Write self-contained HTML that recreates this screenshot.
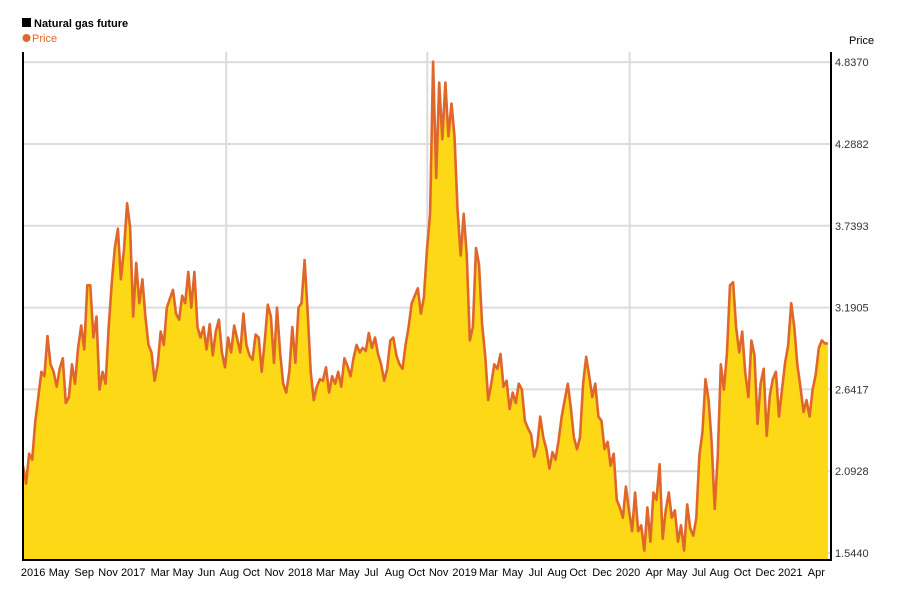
<!DOCTYPE html>
<html><head><meta charset="utf-8"><style>
body{margin:0;background:#fff;font-family:"Liberation Sans",sans-serif}
svg text{font-family:"Liberation Sans",sans-serif}
</style></head><body>
<svg id="chart" width="900" height="600" viewBox="0 0 900 600" xmlns="http://www.w3.org/2000/svg">
<defs><clipPath id="plotclip"><rect x="23" y="40" width="808" height="520"/></clipPath></defs>
<rect x="22" y="18" width="9" height="9" fill="#000"/>
<text x="34" y="27" font-size="11" font-weight="bold" fill="#000">Natural gas future</text>
<circle cx="26.5" cy="38" r="4" fill="#e0672a"/>
<text x="32" y="42" font-size="11" fill="#e0672a">Price</text>
<text x="849" y="44" font-size="11" fill="#000">Price</text>
<g id="grid"></g>
<g id="series" clip-path="url(#plotclip)"></g>
<g id="axes"></g>
</svg>
<script>
const prices = [
2.13,2.01,2.21,2.17,2.42,2.59,2.76,2.73,3.00,2.81,2.76,2.66,2.78,2.85,2.55,2.59,2.81,2.68,2.92,3.07,2.91,3.34,3.34,2.99,3.13,2.64,2.76,2.68,3.06,3.36,3.59,3.72,3.38,3.58,3.89,
3.73,3.13,3.49,3.22,3.38,3.13,2.94,2.89,2.70,2.81,3.03,2.94,3.19,3.25,3.31,3.15,3.11,3.27,3.22,3.43,3.19,3.43,3.06,2.99,3.06,2.91,3.08,2.87,3.03,3.11,2.89,2.79,2.99,2.89,3.07,2.98,2.89,3.15,2.94,2.87,2.84,3.01,2.99,2.76,2.97,3.21,3.13,2.82,3.19,2.89,2.68,2.62,2.76,3.06,2.82,3.19,
3.22,3.51,3.17,2.76,2.57,2.66,2.71,2.70,2.79,2.62,2.73,2.68,2.76,2.66,2.85,2.80,2.73,2.85,2.94,2.89,2.92,2.90,3.02,2.92,2.99,2.88,2.81,2.70,2.78,2.97,2.99,2.87,2.81,2.78,2.94,3.06,3.22,3.27,3.32,3.15,3.26,3.58,3.82,4.84,4.06,4.70,4.32,4.70,4.34,4.56,4.34,3.84,3.54,3.82,3.54,2.97,3.06,3.59,3.48,3.08,2.87,2.57,2.68,2.81,2.78,2.88,2.66,2.70,2.51,2.62,2.55,2.68,2.64,2.43,2.38,2.34,2.19,2.26,2.46,2.32,2.24,2.11,2.22,2.17,2.30,2.46,2.57,2.68,2.52,2.32,2.24,2.32,2.68,2.86,
2.73,2.59,2.68,2.46,2.43,2.24,2.29,2.13,2.21,
1.90,1.85,1.78,1.99,1.83,1.69,1.95,1.69,1.73,1.56,1.85,1.62,1.95,1.90,2.14,1.64,1.83,1.95,1.78,1.83,1.62,1.73,1.56,1.87,1.71,1.66,1.78,
2.20,2.36,2.71,2.57,2.29,1.84,2.20,2.81,2.64,2.88,3.34,3.36,3.06,2.89,3.03,2.75,2.59,2.97,2.87,2.41,2.68,2.78,2.33,2.60,2.71,2.76,2.46,2.64,2.82,2.94,3.22,3.06,2.81,2.66,2.49,2.57,2.46,2.64,2.74,2.92,2.97,2.95,2.95
];
const yTicks = [1.5440,2.0928,2.6417,3.1905,3.7393,4.2882,4.8370];
const xTickLabels = ["2016","May","Sep","Nov","2017","Mar","May","Jun","Aug","Oct","Nov","2018","Mar","May","Jul","Aug","Oct","Nov","2019","Mar","May","Jul","Aug","Oct","Dec","2020","Apr","May","Jul","Aug","Oct","Dec","2021","Apr"];
const xTickWeeks = [3.3,11.8,20.0,27.8,36.0,44.8,52.3,59.9,67.4,74.6,82.1,90.6,98.8,106.6,113.8,121.4,128.6,135.8,144.3,152.1,160.0,167.5,174.5,181.3,189.2,197.7,206.2,213.7,220.9,227.5,235.0,242.5,250.7,259.2];
const xGridWeeks = [66.4,132.1,198.2];

const L=23,R=831,T=52,B=560;
const STEP=(R-L)/264;
const NS="http://www.w3.org/2000/svg";
function xs(w){return L+w*STEP;}
function ys(v){return 553-(v-1.544)*(81.8/0.5488);}
function mk(tag,attrs,parent){const e=document.createElementNS(NS,tag);for(const k in attrs)e.setAttribute(k,attrs[k]);parent.appendChild(e);return e;}
const grid=document.getElementById('grid'),series=document.getElementById('series'),axes=document.getElementById('axes');
yTicks.forEach(v=>{
  const l=mk('line',{x1:L,x2:R,y1:ys(v),y2:ys(v),stroke:'#dcdcdc','stroke-width':2},grid);
  
  
  const t=mk('text',{x:835,y:ys(v)+4,'font-size':11,fill:'#333'},axes);
  t.textContent=v.toFixed(4);
  
  
});
xGridWeeks.forEach(w=>{
  const l=mk('line',{x1:xs(w),x2:xs(w),y1:T,y2:B,stroke:'#dcdcdc','stroke-width':2},grid);
  
  
});
const pts=prices.map((v,i)=>[xs(i),ys(v)]);
let d='M'+pts.map(p=>p[0].toFixed(1)+','+p[1].toFixed(1)).join(' L');
const area=mk('path',{d:d+` L${pts[pts.length-1][0].toFixed(1)},${B} L${pts[0][0].toFixed(1)},${B} Z`,fill:'#fcd817'},series);


const line=mk('path',{d:d,fill:'none',stroke:'#df672c','stroke-width':2.6,'stroke-linejoin':'round'},series);


const a1=mk('line',{x1:L,x2:L,y1:T,y2:B+1,stroke:'#000','stroke-width':2},axes);


const a2=mk('line',{x1:R,x2:R,y1:T,y2:B+1,stroke:'#000','stroke-width':2},axes);


const a3=mk('line',{x1:L-1,x2:R+1,y1:B,y2:B,stroke:'#000','stroke-width':2},axes);


xTickLabels.forEach((s,i)=>{
  const t=mk('text',{x:xs(xTickWeeks[i]),y:576,'font-size':11,fill:'#000','text-anchor':'middle'},axes);
  t.textContent=s;
  
  
});
</script>
</body></html>
